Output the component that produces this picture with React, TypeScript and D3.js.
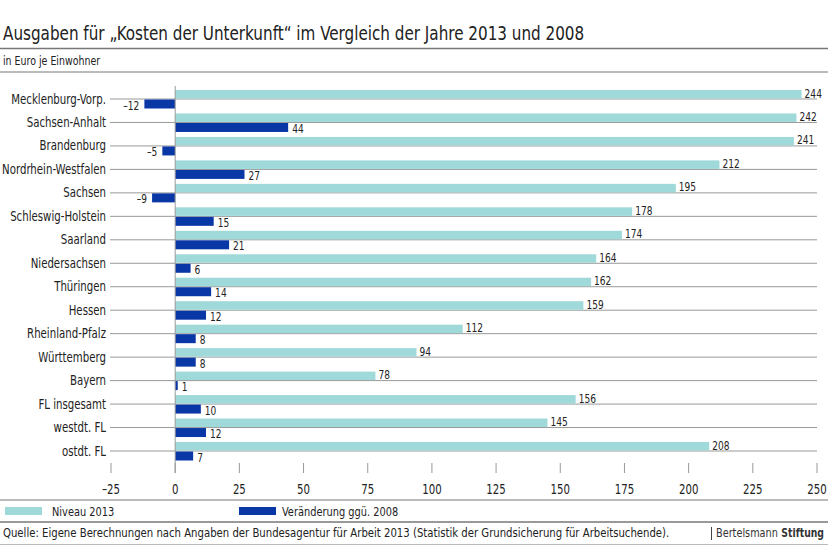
import React from "react";
import * as d3 from "d3";

// data
const laender = [
  "Mecklenburg-Vorp.",
  "Sachsen-Anhalt",
  "Brandenburg",
  "Nordrhein-Westfalen",
  "Sachsen",
  "Schleswig-Holstein",
  "Saarland",
  "Niedersachsen",
  "Thüringen",
  "Hessen",
  "Rheinland-Pfalz",
  "Württemberg",
  "Bayern",
  "FL insgesamt",
  "westdt. FL",
  "ostdt. FL",
];
const niveau2013 = [244, 242, 241, 212, 195, 178, 174, 164, 162, 159, 112, 94, 78, 156, 145, 208];
const veraenderung = [-12, 44, -5, 27, -9, 15, 21, 6, 14, 12, 8, 8, 1, 10, 12, 7];
const xTicks = [-25, 0, 25, 50, 75, 100, 125, 150, 175, 200, 225, 250];

const W = 828;
const H = 547;
const TEAL = "#9fd9d9";
const BLUE = "#0a37a6";
const INK = "#222";
const FONT = "'DejaVu Sans Condensed', 'DejaVu Sans', sans-serif";
const SX = 0.84; // squeeze glyphs to look like the condensed original

const fmt = (v: number) => (v < 0 ? "\u2013" + Math.abs(v) : String(v));

// text drawn narrower than the font gives
function NText({
  x,
  y,
  size,
  anchor = "start",
  children,
  weight,
  sx = SX,
  fill = INK,
}: {
  x: number;
  y: number;
  size: number;
  anchor?: "start" | "middle" | "end";
  children: React.ReactNode;
  weight?: string;
  sx?: number;
  fill?: string;
}) {
  return (
    <text
      transform={`translate(${x},${y}) scale(${sx},1)`}
      fontSize={size}
      textAnchor={anchor}
      fill={fill}
      fontWeight={weight}
    >
      {children}
    </text>
  );
}

export default function App() {
  const x = d3.scaleLinear().domain([-25, 250]).range([111, 817]);
  const y = d3.scalePoint<string>().domain(laender).range([99, 451]);
  const barH = 9;

  return (
    <svg
      width={W}
      height={H}
      style={{ display: "block", position: "absolute", left: 0, top: 0 }}
      fontFamily={FONT}
    >
      <rect width={W} height={H} fill="#fff" />
      {/* header */}
      <NText x={3} y={40} size={20} sx={0.845}>
        Ausgaben für „Kosten der Unterkunft“ im Vergleich der Jahre 2013 und 2008
      </NText>
      <line x1={0} x2={W} y1={48.5} y2={48.5} stroke="#777" strokeWidth={1.5} />
      <NText x={3} y={65} size={12.5}>
        in Euro je Einwohner
      </NText>
      <line x1={0} x2={W} y1={72} y2={72} stroke="#bbb" strokeWidth={2} />

      {/* category lines + labels */}
      {laender.map((l) => (
        <g key={l}>
          <line x1={110} x2={817} y1={y(l)} y2={y(l)} stroke="#999" strokeWidth={1} />
          <NText x={106} y={(y(l) ?? 0) + 4.5} size={13.5} anchor="end">
            {l}
          </NText>
        </g>
      ))}

      {/* bars */}
      {laender.map((l, i) => {
        const cy = y(l) ?? 0;
        const v2 = veraenderung[i];
        return (
          <g key={"b" + l}>
            <rect x={x(0)} y={cy - barH} width={x(niveau2013[i]) - x(0)} height={barH - 0.5} fill={TEAL} />
            <NText x={x(niveau2013[i]) + 3} y={cy - 1.5} size={12}>
              {fmt(niveau2013[i])}
            </NText>
            <rect
              x={Math.min(x(0), x(v2))}
              y={cy + 0.5}
              width={Math.abs(x(v2) - x(0))}
              height={barH}
              fill={BLUE}
            />
            <NText x={v2 < 0 ? x(v2) - 5 : x(v2) + 4} y={cy + 10.5} size={12} anchor={v2 < 0 ? "end" : "start"}>
              {fmt(v2)}
            </NText>
          </g>
        );
      })}

      {/* zero line */}
      <line x1={x(0)} x2={x(0)} y1={86} y2={473} stroke="#999" strokeWidth={1} />

      {/* x axis ticks */}
      {xTicks.map((t) => (
        <g key={"t" + t}>
          <line x1={x(t)} x2={x(t)} y1={463} y2={473} stroke="#999" strokeWidth={1} />
          <NText x={x(t)} y={494} size={13.5} anchor="middle">
            {fmt(t)}
          </NText>
        </g>
      ))}

      {/* legend */}
      <line x1={0} x2={W} y1={500} y2={500} stroke="#bbb" strokeWidth={2} />
      <rect x={5} y={507} width={37} height={8} fill={TEAL} />
      <NText x={52} y={516} size={13}>
        Niveau 2013
      </NText>
      <rect x={239} y={507} width={37} height={8} fill={BLUE} />
      <NText x={282} y={516} size={13}>
        Veränderung ggü. 2008
      </NText>
      <line x1={0} x2={W} y1={522} y2={522} stroke="#999" strokeWidth={2} />

      {/* footer */}
      <NText x={3} y={537} size={12.5} sx={0.9}>
        Quelle: Eigene Berechnungen nach Angaben der Bundesagentur für Arbeit 2013 (Statistik der Grundsicherung für Arbeitsuchende).
      </NText>
      <line x1={711.5} x2={711.5} y1={527} y2={540} stroke="#444" strokeWidth={1} />
      <NText x={716} y={537} size={12} sx={0.9} fill="#333">
        Bertelsmann
      </NText>
      <NText x={824} y={537} size={12} sx={0.86} anchor="end" weight="bold" fill="#333">
        Stiftung
      </NText>
      <line x1={0} x2={W} y1={544.5} y2={544.5} stroke="#bbb" strokeWidth={1} />
    </svg>
  );
}
